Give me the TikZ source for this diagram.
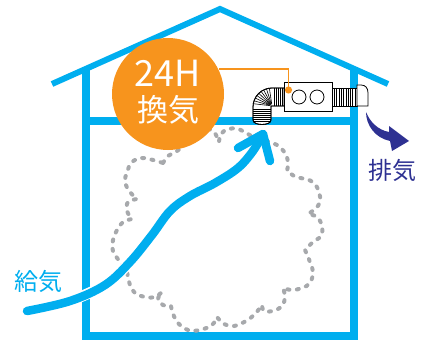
\documentclass[tikz,border=0pt]{standalone}
\usepackage{fontspec}
\newfontfamily\jp{Noto Sans CJK JP}
\definecolor{skyblue}{HTML}{00AEEF}
\definecolor{badgeorange}{HTML}{F7941D}
\definecolor{exhaustblue}{HTML}{2E3192}
\definecolor{cloudgray}{HTML}{A7A9AC}
\begin{document}
\begin{tikzpicture}[x=1pt,y=-1pt,
  house/.style={draw=skyblue, line width=8pt},
  roofline/.style={draw=skyblue, line width=6pt, line join=miter},
  duct/.style={draw=black, line width=0.8pt, fill=white},
  rib/.style={black, line width=0.6pt},
  airflow/.style={cloudgray, line width=4pt, line cap=round, dash pattern=on 2pt off 7.5pt},
  intake/.style={skyblue, line width=8.5pt, line cap=round, line join=round},
  halo/.style={white, line width=11pt, line cap=round},
  tagline/.style={draw=badgeorange, line width=1.8pt},
  jplabel/.style={font=\jp\fontsize{24}{24}\selectfont, inner sep=0pt}
]
\useasboundingbox (0,0) rectangle (422,342);

% roof
\draw[roofline] (52,84) -- (220,9) -- (388,84);
% walls, floor and ceiling
\draw[house, line join=miter] (86,68) -- (86,336) -- (354,336) -- (354,68);
\draw[house] (86,121) -- (354,121);

% circulating air inside the room
\draw[airflow]
  plot[smooth, tension=0.6] coordinates {(163,163) (168,156) (177,151) (190,141) (205,130) (213,131) (217,137) (219,142)}
  -- plot[smooth, tension=0.6] coordinates {(219,142) (221,134) (228,129) (238,129) (248,134) (257,139) (266,141)}
  -- plot[smooth, tension=0.6] coordinates {(266,141) (277,145) (285,153) (288,162) (287,171)}
  -- plot[smooth, tension=0.6] coordinates {(287,171) (296,177) (306,179) (314,183) (319,192) (320,202) (315,209) (308,214)}
  -- plot[smooth, tension=0.6] coordinates {(308,214) (317,217) (322,226) (321,236) (313,242) (305,250)}
  -- plot[smooth, tension=0.6] coordinates {(305,250) (310,262) (313,272) (310,283) (302,288) (292,290) (283,288)}
  -- plot[smooth, tension=0.6] coordinates {(283,288) (285,297) (282,306) (273,311) (264,311) (262,305)}
  -- plot[smooth, tension=0.6] coordinates {(262,305) (255,314) (246,321) (234,326) (224,324) (217,317)}
  -- plot[smooth, tension=0.6] coordinates {(217,317) (212,325) (200,330) (188,330) (178,323) (173,314) (171,306)}
  -- plot[smooth, tension=0.6] coordinates {(171,306) (163,305) (158,299) (162,292)}
  -- plot[smooth, tension=0.6] coordinates {(162,292) (155,297) (145,297) (135,293) (130,285) (127,272)}
  -- plot[smooth, tension=0.6] coordinates {(127,272) (120,262) (113,251) (113,240) (117,230) (123,222) (132,219)}
  -- plot[smooth, tension=0.6] coordinates {(132,219) (127,211) (128,202) (137,199)}
  -- plot[smooth, tension=0.6] coordinates {(137,199) (130,192) (125,182) (127,172) (132,162) (142,158) (153,160) (163,163)};

% 24-hour ventilation badge
\node[circle, fill=badgeorange, minimum size=112pt, inner sep=0pt] (badge) at (168,94) {};
\node[font=\jp\fontsize{36}{36}\selectfont, text=white, inner sep=0pt] (badgeTop) at (168,73.5) {24H};
\node[font=\jp\fontsize{31}{31}\selectfont, text=white, inner sep=0pt] (badgeBottom) at (168,110) {換気};

% flexible elbow duct
\draw[duct] (284,88) -- (272,88) .. controls (261.5,88) and (253,96.5) .. (253,107)
  -- (253,120) .. controls (253,126) and (271,126) .. (271,120) -- (271,106) -- (284,106) -- cycle;
\foreach \yy in {109,111,...,121} \draw[rib] (253,\yy) -- (271,\yy);
\foreach \xx in {274,276,...,282} \draw[rib] (\xx,88) -- (\xx,106);
\foreach \a in {8,17,...,82} \draw[rib] ({272-2*sin(\a)},{106-2*cos(\a)}) -- ({272-19*sin(\a)},{107-19*cos(\a)});
\draw[duct, fill=none] (284,88) -- (272,88) .. controls (261.5,88) and (253,96.5) .. (253,107)
  -- (253,120) .. controls (253,126) and (271,126) .. (271,120) -- (271,106) -- (284,106);

% ribbed outlet duct and hood
\draw[duct] (332,88) rectangle (357,106);
\foreach \i in {1,...,10} \draw[rib] ({332+\i*2.3},88) -- ({332+\i*2.3},106);
\draw[duct] (357,85) -- (361,85) .. controls (365.5,85) and (368,88) .. (368,93) -- (368,106) -- (357,106) -- cycle;

% ventilation unit with two fans
\node[duct, minimum width=48pt, minimum height=29pt, inner sep=0pt] (unit) at (308,96.5) {};
\node[circle, draw=black, line width=0.8pt, minimum size=14pt, inner sep=0pt] (fanL) at (299,97) {};
\node[circle, draw=black, line width=0.8pt, minimum size=14pt, inner sep=0pt] (fanR) at (317,97) {};

% leader from badge to unit
\coordinate (tap) at (288.5,90);
\draw[tagline] (badge.26.5) -| (tap);
\fill[badgeorange] (tap) circle (3.6pt);

% supply air arrow
\node[jplabel, text=skyblue] (supplyLabel) at (38,281.5) {給気};
\coordinate (airStart) at (27,311);
\coordinate (airTip) at (263,134);
\coordinate (armL) at (238,148);
\coordinate (armR) at (270,161);
\draw[halo, line width=11pt] plot[smooth, tension=0.6] coordinates {(70,301) (105,285) (130,262) (152,235) (170,211)};
\draw[intake] plot[smooth, tension=0.6] coordinates {(27,311) (70,301) (105,285) (130,262) (152,235) (170,211) (190,196) (215,183) (238,168) (253,151) (263,134)};
\draw[intake] (armL) -- (airTip) -- (armR);

% exhaust air arrow
\node[jplabel, text=exhaustblue] (exhaustLabel) at (392,170) {排気};
\fill[exhaustblue] (366,112) .. controls (366,125) and (375,138) .. (390,141)
  -- (392,151) -- (409,141) -- (389,126) -- (389,132)
  .. controls (378,130) and (370,122) .. (366,112) -- cycle;
\end{tikzpicture}
\end{document}
